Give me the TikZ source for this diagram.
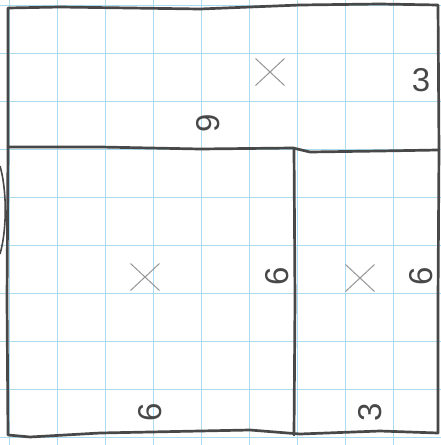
\documentclass[tikz,border=0pt]{standalone}
\usepackage{fontspec}
\setmainfont{Liberation Sans}
\usetikzlibrary{shapes.misc}
\definecolor{gridblue}{RGB}{172,219,240}
\definecolor{pencil}{RGB}{72,72,72}
\definecolor{lightpencil}{RGB}{150,150,150}
\tikzset{
  gridline/.style={gridblue, line width=0.9pt},
  pencilline/.style={pencil, line width=2.7pt, line join=round, line cap=round},
  digit/.style={text=pencil, font=\fontsize{33}{33}\selectfont, inner sep=0pt},
  xmark/.style={cross out, draw=lightpencil, line width=1pt, minimum width=28pt, minimum height=26pt, inner sep=0pt}
}
\begin{document}
\begin{tikzpicture}[x=1pt,y=-1pt]
\useasboundingbox (0,0) rectangle (441,445);
\fill[white] (0,0) rectangle (441,445);
% grid paper
\foreach \gx in {9,57,...,441} \draw[gridline] (\gx,0) -- (\gx,445);
\foreach \gy in {5,53,...,437} \draw[gridline] (0,\gy) -- (441,\gy);
% outer square
\draw[pencilline] (8,8) -- (60,7) -- (200,9) -- (250,7) -- (300,5) -- (380,4) -- (438,5)
  -- (439,150) -- (438,300) -- (438,433)
  -- (380,431) -- (300,434) -- (250,430) -- (100,433) -- (30,437) -- (8,435)
  -- (7,300) -- (8,150) -- cycle;
% dividers
\draw[pencilline] (8,147) -- (100,147) -- (200,149) -- (293,148) -- (310,152) -- (380,151) -- (438,150);
\draw[pencilline] (294,148) -- (295,300) -- (294,435);
% stray arc at left edge
\draw[pencil, line width=1.6pt] (0,166) .. controls (7,190) and (7,230) .. (0,254);
% labels
\node[digit, rotate=90] (nine) at (208,123) {9};
\node[digit] (threetop) at (421,80) {3};
\node[digit, rotate=90] (sixmid) at (277,276) {6};
\node[digit, rotate=90] (sixright) at (421,276) {6};
\node[digit, rotate=90] (sixbottom) at (150,412) {6};
\node[digit, rotate=90] (threebottom) at (370,412) {3};
% cross marks
\node[xmark] (xtop) at (270,72) {};
\node[xmark] (xleft) at (145,277) {};
\node[xmark] (xright) at (360,278) {};
\end{tikzpicture}
\end{document}
